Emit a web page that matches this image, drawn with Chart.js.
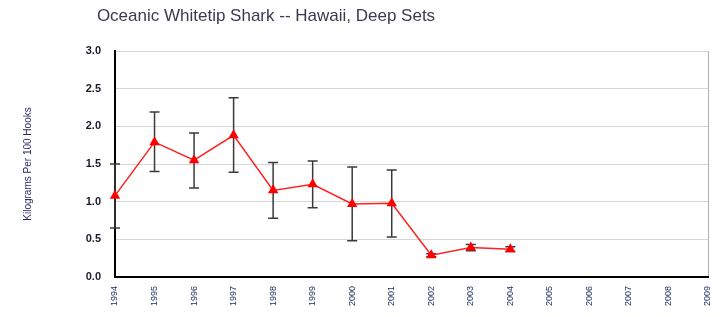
<!DOCTYPE html>
<html>
<head>
<meta charset="utf-8">
<script src="https://cdn.jsdelivr.net/npm/chart.js@4"></script>
<style>
  html, body { margin:0; padding:0; background:#fff; }
  #wrap { width:721px; height:317px; position:relative; }
</style>
</head>
<body>
<div id="wrap"><canvas id="cpue"></canvas></div>
<script>
// values
const years = ['1994','1995','1996','1997','1998','1999','2000','2001','2002','2003','2004','2005','2006','2007','2008','2009'];
const cpue    = [1.08, 1.79, 1.55, 1.88, 1.15, 1.23, 0.97, 0.98, 0.29, 0.39, 0.37, null, null, null, null, null];
const errLow  = [0.65, 1.40, 1.18, 1.39, 0.78, 0.92, 0.48, 0.53, 0.27, 0.35, 0.34, null, null, null, null, null];
const errHigh = [1.50, 2.19, 1.91, 2.38, 1.52, 1.54, 1.46, 1.42, 0.31, 0.43, 0.40, null, null, null, null, null];
const yTicks  = [0, 0.5, 1.0, 1.5, 2.0, 2.5, 3.0];
const chartTitle = 'Oceanic Whitetip Shark -- Hawaii, Deep Sets';
const yTitle = 'Kilograms Per 100 Hooks';

// error bars drawn behind the line, via the chart's own scales
const errorBars = {
  id: 'errorBars',
  beforeDatasetsDraw(chart){
    const {ctx, scales:{x, y}} = chart;
    ctx.save();
    ctx.strokeStyle = '#3a3a3a';
    ctx.lineWidth = 1.5;
    errLow.forEach((lo, i) => {
      if (lo == null) return;
      const px = x.getPixelForValue(i);
      const y1 = y.getPixelForValue(lo), y2 = y.getPixelForValue(errHigh[i]);
      ctx.beginPath();
      ctx.moveTo(px, y1); ctx.lineTo(px, y2);
      ctx.moveTo(px-5, y1); ctx.lineTo(px+5, y1);
      ctx.moveTo(px-5, y2); ctx.lineTo(px+5, y2);
      ctx.stroke();
    });
    ctx.restore();
  }
};

// the title sits left of centre in the original
const titleText = {
  id: 'titleText',
  afterDraw(chart){
    const ctx = chart.ctx;
    ctx.save();
    ctx.fillStyle = '#3a3a50';
    ctx.font = '17px "Liberation Sans", Arial, sans-serif';
    ctx.textAlign = 'center';
    ctx.textBaseline = 'middle';
    ctx.fillText(chartTitle, 266, 16);
    ctx.restore();
  }
};

new Chart(document.getElementById('cpue'), {
  type: 'line',
  data: {
    labels: years,
    datasets: [{
      data: cpue,
      borderColor: '#ff2020',
      borderWidth: 1.5,
      backgroundColor: '#ff0000',
      pointStyle: 'triangle',
      pointRadius: 6,
      pointBorderWidth: 0,
      tension: 0,
      spanGaps: false
    }]
  },
  options: {
    responsive: true,
    maintainAspectRatio: false,
    animation: false,
    layout: { padding: { left: 0, right: 13, top: 51, bottom: 0 } },
    plugins: { legend: { display: false }, tooltip: { enabled: false } },
    scales: {
      x: {
        offset: false,
        grid: {
          drawTicks: false,
          color: c => c.index === years.length - 1 ? '#b0b0b0' : 'rgba(0,0,0,0)'
        },
        border: { color: '#000', width: 2 },
        ticks: {
          autoSkip: false,
          minRotation: 90, maxRotation: 90,
          padding: 9,
          color: '#1a2a5a',
          font: { size: 9, family: 'Arial, "Liberation Sans", sans-serif' }
        },
        afterFit: s => { s.height = 40; s.paddingLeft = 0; s.paddingRight = 0; }
      },
      y: {
        min: 0, max: 3,
        afterBuildTicks: s => { s.ticks = yTicks.map(v => ({ value: v })); },
        grid: { drawTicks: false, color: '#d6d6d6' },
        border: { color: '#000', width: 2 },
        ticks: {
          padding: 14,
          color: '#1a1a2a',
          font: { size: 11, weight: 'bold', family: 'Arial, "Liberation Sans", sans-serif' },
          callback: v => Number(v).toFixed(1)
        },
        title: {
          display: true,
          text: yTitle,
          color: '#2a2a6a',
          font: { size: 10, family: 'Arial, "Liberation Sans", sans-serif' },
          padding: { top: 22, bottom: 0 }
        },
        afterFit: s => { s.width = 115; s.paddingTop = 0; s.paddingBottom = 0; }
      }
    }
  },
  plugins: [errorBars, titleText]
});
</script>
</body>
</html>
